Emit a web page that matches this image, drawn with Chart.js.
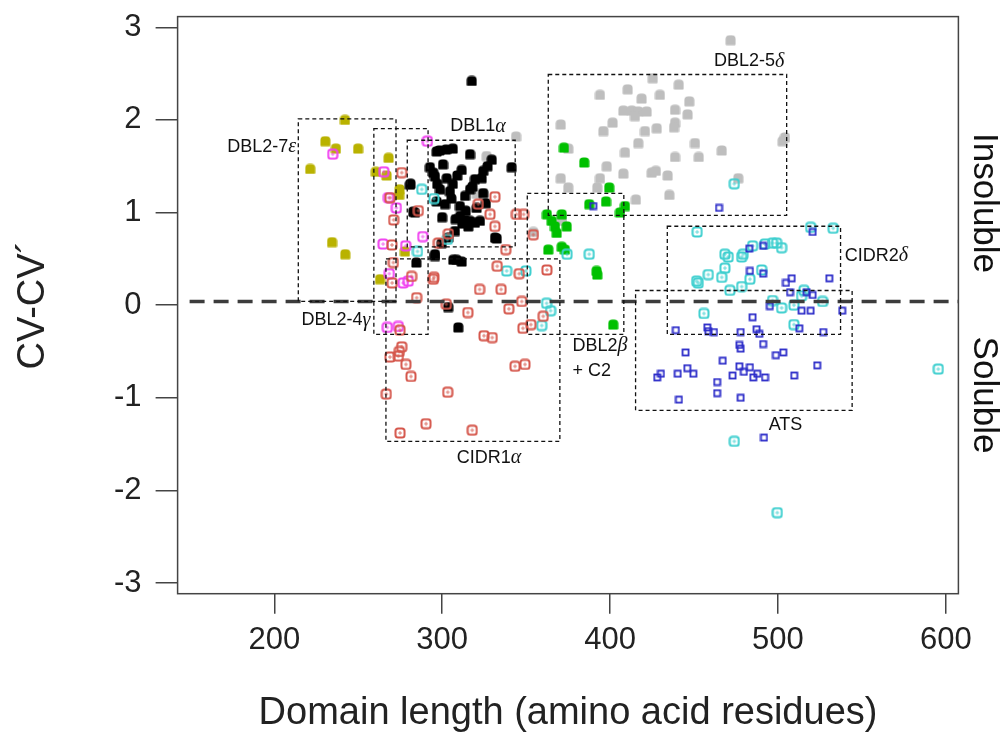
<!DOCTYPE html>
<html><head><meta charset="utf-8">
<script src="https://cdn.jsdelivr.net/npm/chart.js@4.4.1/dist/chart.umd.min.js"></script>
<style>html,body{margin:0;padding:0;background:#fff;}#wrap{width:1002px;height:742px;}</style>
</head><body><div id="wrap"><canvas id="c" width="1002" height="742" style="width:1002px;height:742px"></canvas></div>
<script>
// ---- tick labels ----
const xTicks = [200, 300, 400, 500, 600];
const yTicks = [-3, -2, -1, 0, 1, 2, 3];
const refLineY = 0.04;

// ---- series: [domain length, CV-CV'] ----
const dbl27e = [[242.1,2.00],[230.4,1.77],[236.7,1.69],[249.9,1.69],[221.4,1.47],[234.4,0.68],[242.3,0.55],[260.5,1.44],[268.1,1.59],[266.9,1.40],[274.6,1.25],[274.4,1.19],[277.8,0.58],[263.0,0.28]];
const dbl24g = [[234.8,1.63],[291.2,1.77],[265.2,1.44],[268.0,1.16],[272.7,1.05],[288.4,0.74],[264.8,0.66],[278.3,0.64],[268.5,0.34],[276.8,0.24],[279.8,0.26],[267.3,-0.24],[273.9,-0.23]];
const dbl1a = [[317.6,2.42],[296.7,1.66],[298.3,1.67],[302.3,1.68],[306.3,1.69],[316.6,1.63],[329.5,1.57],[341.4,1.49],[292.7,1.49],[294.7,1.43],[295.7,1.39],[311.6,1.46],[324.5,1.45],[327.0,1.50],[280.8,1.30],[281.2,1.31],[297.1,1.31],[302.7,1.37],[306.3,1.31],[319.5,1.36],[323.5,1.37],[298.7,1.25],[304.6,1.23],[313.6,1.18],[316.6,1.25],[324.5,1.21],[318.0,1.28],[296.7,1.12],[301.7,1.09],[310.6,1.07],[283.8,1.00],[282.8,1.01],[310.6,0.96],[313.6,0.92],[316.6,0.91],[319.5,0.89],[322.5,0.91],[315.6,0.85],[312.0,0.88],[308.0,0.93],[307.6,0.80],[331.5,0.73],[299.7,0.67],[303.7,0.73],[332.5,0.72],[295.7,0.55],[295.7,0.53],[284.6,0.46],[306.6,0.49],[308.6,0.49],[311.6,0.47],[303.6,-0.02],[309.6,-0.24],[300.5,1.52],[309.0,1.40],[320.5,1.05],[314.0,1.02],[305.5,1.15],[326.0,1.10],[300.0,0.95]];
const dbl25d = [[471.8,2.86],[425.4,2.45],[440.9,2.38],[410.5,2.33],[394.0,2.27],[429.7,2.27],[418.8,2.23],[447.2,2.20],[407.9,2.10],[412.9,2.10],[416.8,2.09],[421.8,2.09],[414.8,2.04],[438.7,2.11],[446.2,2.06],[370.6,1.95],[401.5,1.97],[396.0,1.88],[420.8,1.88],[427.8,1.91],[438.7,1.97],[438.1,1.92],[416.8,1.75],[450.6,1.75],[504.2,1.81],[502.8,1.77],[375.1,1.69],[408.9,1.65],[466.5,1.67],[438.7,1.60],[452.8,1.60],[398.0,1.50],[424.8,1.43],[427.3,1.45],[407.9,1.42],[434.3,1.40],[370.6,1.37],[394.0,1.37],[476.4,1.37],[375.1,1.27],[392.4,1.27],[435.3,1.19],[415.4,1.14],[371.2,0.95],[344.0,1.82],[326.5,1.61],[320.6,1.20],[354.3,0.79],[371.2,0.91]];
const dbl2bC2 = [[372.5,1.70],[384.6,1.54],[399.5,1.27],[397.6,1.12],[387.6,1.09],[408.9,1.07],[405.9,1.00],[362.4,0.98],[371.2,0.98],[365.2,0.91],[367.2,0.85],[368.2,0.78],[374.2,0.85],[363.2,0.60],[371.2,0.63],[373.1,0.60],[392.0,0.37],[392.4,0.33],[401.9,-0.21]];
const cidr1a = [[275.9,1.43],[268.9,1.16],[271.1,0.92],[285.8,1.02],[270.1,0.65],[297.7,0.67],[270.9,0.46],[281.8,0.31],[270.2,0.24],[284.8,0.08],[294.7,0.28],[295.1,0.30],[302.5,0.01],[321.5,1.09],[331.4,1.17],[328.5,0.98],[331.4,0.85],[344.2,0.98],[348.5,0.98],[303.7,0.77],[337.9,0.60],[354.3,0.76],[332.8,0.42],[345.9,0.34],[362.4,0.38],[322.3,0.17],[335.1,0.17],[315.3,-0.08],[339.7,-0.04],[347.4,0.04],[360.2,-0.12],[352.8,-0.21],[348.1,-0.25],[324.9,-0.33],[329.8,-0.35],[274.9,-0.27],[275.9,-0.45],[274.5,-0.50],[273.9,-0.55],[268.9,-0.56],[278.4,-0.64],[281.4,-0.77],[343.4,-0.66],[349.3,-0.64],[266.7,-0.96],[303.3,-0.94],[290.4,-1.28],[274.9,-1.38],[317.9,-1.35]];
const cidr2d = [[287.8,1.25],[295.1,1.15],[303.1,0.71],[285.3,0.58],[374.4,0.55],[387.6,0.55],[338.4,0.37],[349.9,0.37],[362.2,0.02],[364.6,-0.06],[359.3,-0.22],[474.0,1.31],[451.9,0.79],[519.5,0.84],[532.9,0.83],[468.4,0.55],[470.4,0.52],[478.4,0.52],[479.3,0.55],[484.9,0.64],[492.3,0.66],[496.8,0.67],[499.2,0.67],[502.2,0.62],[468.4,0.40],[458.5,0.33],[466.5,0.30],[451.6,0.26],[452.5,0.24],[471.4,0.16],[478.4,0.20],[483.3,0.28],[490.3,0.38],[515.5,0.16],[514.1,0.10],[526.6,0.04],[496.8,0.05],[502.2,-0.03],[509.5,0.00],[509.5,-0.21],[455.9,-0.09],[595.5,-0.69],[474.0,-1.47],[499.6,-2.24]];
const ats = [[464.9,1.05],[390.0,1.07],[520.7,0.79],[482.9,0.61],[491.2,0.64],[483.3,0.37],[491.2,0.34],[504.8,0.24],[508.2,0.29],[530.6,0.29],[507.2,0.14],[517.1,0.14],[520.7,0.11],[495.2,-0.01],[514.1,-0.06],[519.5,-0.06],[538.3,-0.06],[484.9,-0.13],[439.2,-0.27],[457.9,-0.24],[458.5,-0.28],[461.9,-0.29],[477.8,-0.29],[487.3,-0.26],[488.9,-0.31],[512.7,-0.25],[527.0,-0.29],[477.0,-0.43],[477.8,-0.47],[491.2,-0.42],[445.0,-0.51],[498.8,-0.54],[503.2,-0.51],[467.1,-0.60],[523.4,-0.65],[477.0,-0.66],[483.3,-0.67],[446.0,-0.68],[430.3,-0.74],[428.1,-0.78],[440.3,-0.74],[449.6,-0.74],[473.0,-0.76],[479.7,-0.72],[487.7,-0.74],[485.3,-0.78],[492.3,-0.78],[509.7,-0.76],[463.8,-0.83],[463.8,-0.95],[477.8,-1.00],[441.0,-1.02],[491.7,-1.43]];

// ---- domain group regions: [xFrom, xTo, yTop, yBottom] ----
const regionNames = ['DBL2-7ε','DBL2-4γ','DBL1α','DBL2-5δ','DBL2β + C2','CIDR1α','CIDR2δ','ATS'];
const regionBounds = [[214.3,272.5,2.01,0.04],[259.3,291.6,1.906,-0.316],[279.2,343.5,1.78,0.629],[363.2,505.2,2.49,0.97],[350.7,408.2,1.206,-0.316],[266.5,370.1,0.50,-1.47],[434.1,537.3,0.852,-0.316],[415.2,544.2,0.158,-1.136]];
// label anchors [x, y, align]
const regionLabels = [
  {parts:[['DBL2-7',0],['ε',1]], x:213, y:1.71, align:'right'},
  {parts:[['DBL2-4',0],['γ',1]], x:236.7, y:-0.165, align:'center'},
  {parts:[['DBL1',0],['α',1]], x:321.3, y:1.93, align:'center'},
  {parts:[['DBL2-5',0],['δ',1]], x:482.8, y:2.63, align:'center'},
  {parts:[['DBL2',0],['β',1]], x:377.6, y:-0.44, align:'left'},
  {parts:[['+ C2',0]], x:377.6, y:-0.71, align:'left'},
  {parts:[['CIDR1',0],['α',1]], x:327.9, y:-1.65, align:'center'},
  {parts:[['CIDR2',0],['δ',1]], x:539.8, y:0.53, align:'left'},
  {parts:[['ATS',0]], x:504.5, y:-1.29, align:'center'}
];

const FAM = "'Liberation Sans', Arial, sans-serif";

function marker(kind, color) {
  const c = document.createElement('canvas');
  const g = c.getContext('2d');
  if (kind === 'filled') {
    c.width = 11; c.height = 11;
    g.fillStyle = color;
    g.beginPath(); g.roundRect(0.5, 0.5, 10, 10, [4, 4, 1, 1]); g.fill();
  } else if (kind === 'open') {
    c.width = 12; c.height = 12;
    g.strokeStyle = color; g.lineWidth = 2;
    g.beginPath(); g.roundRect(1.5, 1.5, 9, 9, 2.5); g.stroke();
    g.fillStyle = color; g.globalAlpha = 0.75;
    g.fillRect(5.5, 4, 1, 4); g.fillRect(4, 5.5, 4, 1);
  } else {
    c.width = 9; c.height = 9;
    g.strokeStyle = color; g.lineWidth = 1.8;
    g.strokeRect(1.5, 1.5, 6, 6);
  }
  return c;
}

const toPts = a => a.map(p => ({x: p[0], y: p[1]}));
function ds(label, arr, style, order) {
  return {label, data: toPts(arr), pointStyle: style, pointRadius: 5, pointHoverRadius: 5, order, showLine: false};
}

const overlay = {
  id: 'overlay',
  afterDatasetsDraw(chart) {
    const {ctx, chartArea: a, scales: {x, y}} = chart;
    ctx.save();
    ctx.strokeStyle = '#3c3c3c'; ctx.lineWidth = 3.5; ctx.setLineDash([15, 9]);
    const yy = y.getPixelForValue(refLineY);
    ctx.beginPath(); ctx.moveTo(a.left + 12, yy); ctx.lineTo(a.right, yy); ctx.stroke();
    ctx.strokeStyle = '#111'; ctx.lineWidth = 1.3; ctx.setLineDash([4, 3]);
    regionBounds.forEach(b => {
      const x0 = x.getPixelForValue(b[0]), x1 = x.getPixelForValue(b[1]);
      const y0 = y.getPixelForValue(b[2]), y1 = y.getPixelForValue(b[3]);
      ctx.strokeRect(x0, y0, x1 - x0, y1 - y0);
    });
    ctx.setLineDash([]);
    ctx.fillStyle = '#111'; ctx.textBaseline = 'middle';
    const fN = "18px " + FAM, fG = "italic 20px 'Liberation Serif', serif";
    regionLabels.forEach(l => {
      let w = 0;
      l.parts.forEach(p => { ctx.font = p[1] ? fG : fN; w += ctx.measureText(p[0]).width; });
      let px = x.getPixelForValue(l.x);
      if (l.align === 'center') px -= w / 2; else if (l.align === 'right') px -= w;
      const py = y.getPixelForValue(l.y);
      ctx.textAlign = 'left';
      l.parts.forEach(p => { ctx.font = p[1] ? fG : fN; ctx.fillText(p[0], px, py); px += ctx.measureText(p[0]).width; });
    });
    ctx.restore();
  },
  afterDraw(chart) {
    const {ctx, chartArea: a} = chart;
    ctx.save();
    ctx.strokeStyle = '#444'; ctx.lineWidth = 1.5;
    ctx.strokeRect(a.left, a.top, a.right - a.left, a.bottom - a.top);
    ctx.fillStyle = '#111'; ctx.font = "35px " + FAM; ctx.textAlign = 'center'; ctx.textBaseline = 'middle';
    [['Insoluble', 203], ['Soluble', 395]].forEach(t => {
      ctx.save(); ctx.translate(984, t[1]); ctx.rotate(Math.PI / 2); ctx.fillText(t[0], 0, 0); ctx.restore();
    });
    ctx.restore();
  }
};

new Chart(document.getElementById('c'), {
  type: 'scatter',
  data: {
    datasets: [
      ds('DBL2-5δ', dbl25d, marker('filled', '#bebebe'), 8),
      ds('DBL2β + C2', dbl2bC2, marker('filled', '#00c000'), 7),
      ds('DBL2-7ε', dbl27e, marker('filled', '#b9b200'), 6),
      ds('DBL1α', dbl1a, marker('filled', '#000000'), 5),
      ds('CIDR2δ', cidr2d, marker('open', '#3fcfcf'), 4),
      ds('ATS', ats, marker('small', '#2b2bc8'), 3),
      ds('DBL2-4γ', dbl24g, marker('open', '#f040f0'), 2),
      ds('CIDR1α', cidr1a, marker('open', '#d5574c'), 1)
    ]
  },
  options: {
    responsive: false,
    animation: false,
    layout: {padding: {top: 16.6, right: 43.6, left: 0, bottom: 0}},
    plugins: {legend: {display: false}, tooltip: {enabled: false}},
    scales: {
      x: {
        type: 'linear', min: 142.4, max: 607.5,
        afterBuildTicks: s => { s.ticks = xTicks.map(v => ({value: v})); },
        afterFit: s => { s.height = 148.3; s.paddingLeft = 0; s.paddingRight = 0; },
        ticks: {font: {size: 31, family: FAM}, color: '#222', padding: 8, maxRotation: 0, autoSkip: false},
        grid: {drawOnChartArea: false, tickLength: 20, color: '#444', lineWidth: 1.5},
        border: {display: false},
        title: {display: true, text: 'Domain length (amino acid residues)', font: {size: 38, family: FAM}, color: '#222', padding: {bottom: 6, top: 0}}
      },
      y: {
        type: 'linear', min: -3.115, max: 3.115,
        afterBuildTicks: s => { s.ticks = yTicks.map(v => ({value: v})); },
        afterFit: s => { s.width = 177.6; s.paddingTop = 0; s.paddingBottom = 0; },
        ticks: {font: {size: 31, family: FAM}, color: '#222', padding: 14, autoSkip: false},
        grid: {drawOnChartArea: false, tickLength: 22, color: '#444', lineWidth: 1.5},
        border: {display: false},
        title: {display: true, text: 'CV-CV´', font: {size: 38, family: FAM}, color: '#222', padding: {top: 11, bottom: 0}}
      }
    }
  },
  plugins: [overlay]
});
</script></body></html>
